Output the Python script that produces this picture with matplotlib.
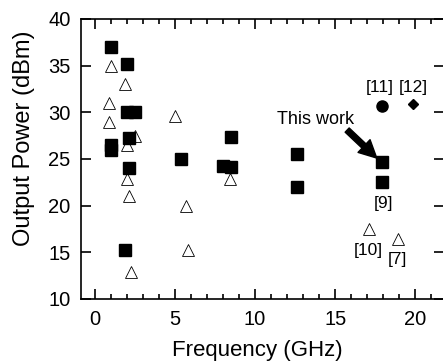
import matplotlib
matplotlib.use('Agg')
import matplotlib.pyplot as plt
from matplotlib.ticker import MultipleLocator

plt.rcParams['font.family'] = ['Liberation Sans', 'DejaVu Sans']

# filled squares (this work / compared)
sq_freq = [1.0, 1.0, 1.0, 2.0, 2.0, 2.5, 2.1, 2.1, 1.9, 5.4, 8.5, 8.0, 8.5, 12.6, 12.6, 17.9, 17.9]
sq_pout = [37.0, 26.5, 26.0, 35.2, 30.0, 30.0, 27.3, 24.0, 15.2, 25.0, 27.4, 24.3, 24.1, 25.5, 22.0, 24.7, 22.5]

# open triangles
tri_freq = [1.0, 1.9, 0.9, 0.9, 5.0, 2.5, 2.0, 2.0, 2.1, 5.7, 5.8, 2.25, 8.45, 17.1, 18.9]
tri_pout = [35.0, 33.0, 31.0, 29.0, 29.6, 27.5, 26.5, 22.9, 21.0, 20.0, 15.25, 12.85, 22.9, 17.5, 16.4]

# [11] circle, [12] diamond
circ_freq, circ_pout = [17.9], [30.7]
dia_freq, dia_pout = [19.85], [30.9]

# reference labels
ref_text = ['[11]', '[12]', '[9]', '[10]', '[7]']
ref_x = [17.8, 19.9, 18.0, 17.1, 18.9]
ref_y = [32.7, 32.7, 20.25, 15.25, 14.2]

fig = plt.figure(figsize=(4.43, 3.63), dpi=100)
ax = fig.add_axes([81/443, 64/363, 363/443, 280/363])

ax.plot(tri_freq, tri_pout, '^', ms=8, mfc='white', mec='black', mew=0.6, ls='none')
ax.plot(sq_freq, sq_pout, 's', ms=8, color='black', ls='none')
ax.plot(circ_freq, circ_pout, 'o', ms=8, color='black', ls='none')
ax.plot(dia_freq, dia_pout, 'D', ms=5.5, color='black', ls='none')

for t, x, y in zip(ref_text, ref_x, ref_y):
    ax.text(x, y, t, ha='center', va='center', fontsize=12.5)

ax.text(13.78, 29.2, 'This work', ha='center', va='center', fontsize=13)
ax.annotate('', xy=(17.6, 25.1), xytext=(15.75, 28.1),
            arrowprops=dict(arrowstyle='simple,head_length=0.9,head_width=0.9,tail_width=0.3',
                            color='black', shrinkA=0, shrinkB=0, mutation_scale=14))

ax.set_xlim(-0.875, 21.8)
ax.set_ylim(10, 40)
ax.xaxis.set_major_locator(MultipleLocator(5))
ax.xaxis.set_minor_locator(MultipleLocator(1))
ax.yaxis.set_major_locator(MultipleLocator(5))
ax.tick_params(which='both', direction='in', top=True, right=True, width=1.2, labelsize=14.5)
ax.tick_params(which='major', length=7)
ax.tick_params(which='minor', length=3.5)
ax.tick_params(axis='x', pad=8)
ax.tick_params(axis='y', pad=7.5)
for s in ax.spines.values():
    s.set_linewidth(1.2)

ax.set_xlabel('Frequency (GHz)', fontsize=16)
ax.set_ylabel('Output Power (dBm)', fontsize=17)
ax.xaxis.set_label_coords(0.485, -0.146)
ax.yaxis.set_label_coords(-0.127, 0.575)

fig.savefig('out.png', dpi=100)
